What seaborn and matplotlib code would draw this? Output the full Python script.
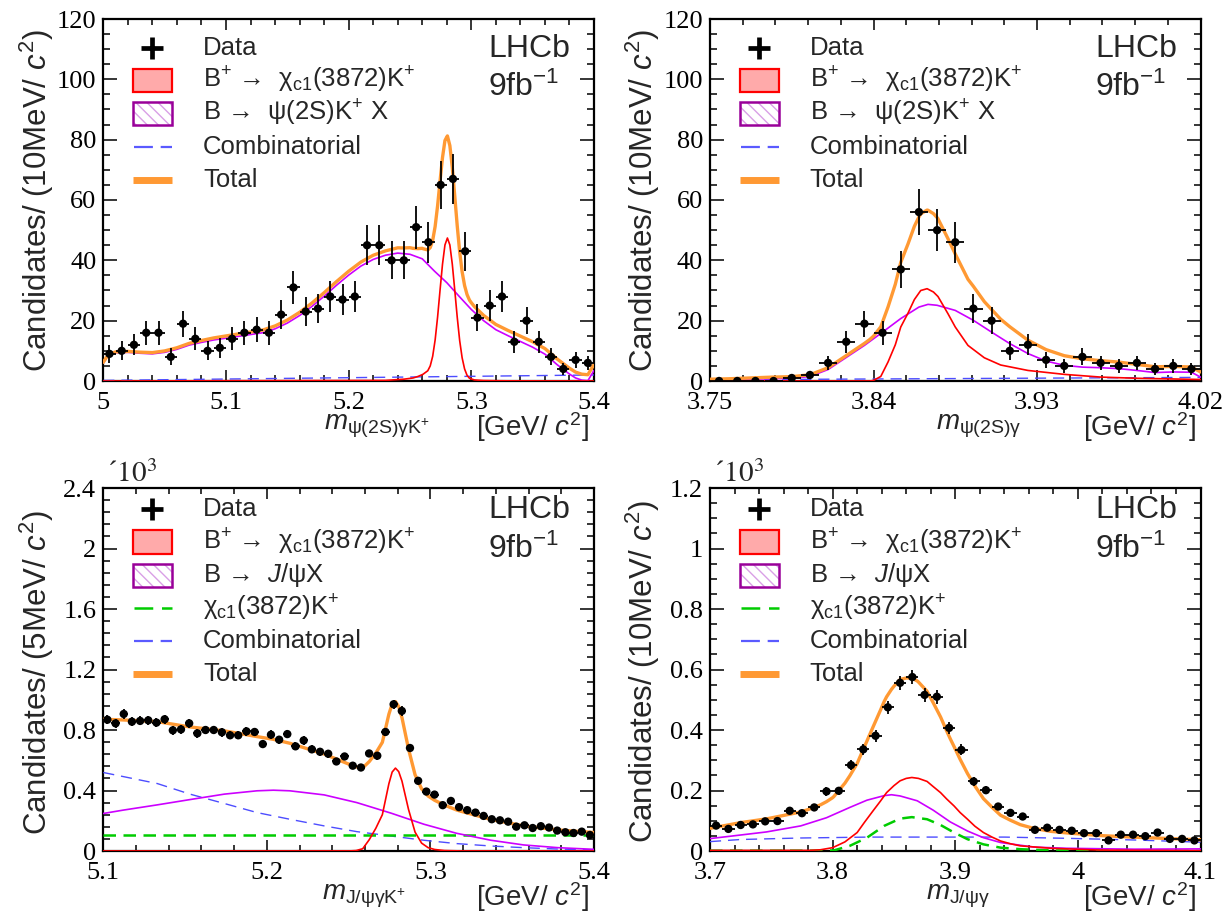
import numpy as np
import pandas as pd
import matplotlib
matplotlib.use("Agg")
import matplotlib.pyplot as plt
import seaborn as sns
from matplotlib.patches import Rectangle
from matplotlib.lines import Line2D
from matplotlib.ticker import MultipleLocator, FixedLocator, FuncFormatter

# ------------------------------------------------------------------ data
# (a) m(psi(2S) gamma K+), 10 MeV bins, 5.00 - 5.40 GeV
a_edges = (5.00, 5.40, 0.010)
a_counts = [9, 10, 12, 16, 16, 8, 19, 14, 10, 11,
            14, 16, 17, 16, 22, 31, 23, 24, 28, 27,
            28, 45, 45, 40, 40, 51, 46, 65, 67, 43,
            21, 25, 28, 13, 20, 13, 8, 4, 7, 6]
a_sig_x = [5.000, 5.230, 5.245, 5.2525, 5.2565, 5.2605, 5.2645, 5.2665, 5.2685, 5.2705,
           5.2725, 5.2745, 5.2765, 5.2785, 5.2805, 5.2825, 5.2845, 5.2865, 5.2885, 5.2905,
           5.2925, 5.2945, 5.2965, 5.2985, 5.3025, 5.310, 5.330, 5.400]
a_sig_y = [0, 0.2, 0.6, 1.0, 1.5, 2.2, 3.4, 5.0, 8.2, 13.6,
           21.2, 30.1, 38.7, 45.1, 47.4, 45.1, 38.7, 30.1, 21.2, 13.4,
           7.7, 4.0, 1.9, 0.9, 0.35, 0.15, 0.05, 0]
a_bkg_x = [5.000, 5.004, 5.010, 5.020, 5.030, 5.040, 5.050, 5.060, 5.070, 5.080,
           5.090, 5.100, 5.110, 5.120, 5.130, 5.140, 5.150, 5.160, 5.170, 5.180,
           5.190, 5.200, 5.210, 5.220, 5.230, 5.240, 5.250, 5.260, 5.270, 5.280,
           5.290, 5.300, 5.310, 5.320, 5.330, 5.340, 5.350, 5.360, 5.370, 5.380,
           5.385, 5.390, 5.395, 5.400]
a_bkg_y = [6.0, 8.5, 9.4, 9.5, 9.2, 9.0, 9.5, 10.5, 11.9, 12.8,
           13.6, 14.2, 14.8, 15.4, 16.0, 17.3, 19.2, 21.7, 24.7, 28.1,
           31.7, 35.1, 38.1, 40.3, 41.7, 42.4, 42.0, 40.5, 36.4, 32.6,
           28.1, 23.7, 20.0, 17.0, 15.0, 13.1, 11.2, 8.9, 5.4, 2.3,
           1.0, 0.3, 0.1, 3.5]
a_comb_x = [5.0, 5.1, 5.2, 5.3, 5.4]
a_comb_y = [0.2, 0.65, 1.1, 1.55, 2.0]

# (b) m(psi(2S) gamma), 10 MeV bins, 3.75 - 4.02 GeV
b_edges = (3.75, 4.02, 0.010)
b_counts = [0, 0, 0, 0, 1, 2, 6, 13, 19, 16, 37, 56, 50, 46,
            24, 20, 10, 12, 7, 5, 8, 6, 5, 6, 4, 5, 4]
b_sig_x = [3.750, 3.838, 3.840, 3.844, 3.848, 3.852, 3.855, 3.859, 3.8625, 3.866,
           3.8695, 3.873, 3.8755, 3.881, 3.885, 3.892, 3.901, 3.910, 3.925, 3.945,
           3.965, 3.985, 4.020]
b_sig_y = [0, 0, 0.2, 1.5, 6.3, 12.0, 17.9, 22.5, 27.0, 30.0,
           30.6, 29.5, 28.0, 22.3, 17.9, 11.8, 7.7, 5.3, 3.5, 2.2,
           1.3, 0.9, 0.5]
b_bkg_x = [3.750, 3.760, 3.785, 3.795, 3.805, 3.815, 3.825, 3.835, 3.845, 3.855,
           3.865, 3.870, 3.875, 3.885, 3.895, 3.905, 3.915, 3.925, 3.935, 3.945,
           3.955, 3.965, 3.975, 3.985, 3.995, 4.005, 4.015, 4.020]
b_bkg_y = [0.2, 0.3, 0.8, 0.9, 1.5, 3.8, 7.8, 11.8, 16.2, 20.7,
           24.5, 25.4, 25.1, 23.4, 20.1, 16.2, 12.4, 9.1, 6.6, 5.2,
           4.6, 4.4, 4.1, 3.5, 2.8, 3.0, 2.9, 1.3]
b_comb_x = [3.75, 3.85, 3.95, 4.02]
b_comb_y = [0.4, 0.7, 1.0, 1.2]

# (c) m(J/psi gamma K+), 5 MeV bins, 5.10 - 5.40 GeV
c_edges = (5.10, 5.40, 0.005)
c_counts = [868, 844, 906, 855, 860, 864, 849, 871, 798, 804,
            844, 778, 800, 800, 785, 765, 765, 791, 787, 707,
            769, 736, 773, 692, 731, 672, 656, 643, 592, 625,
            564, 552, 645, 630, 787, 970, 926, 681, 464, 393,
            373, 303, 331, 290, 270, 254, 232, 210, 203, 194,
            161, 170, 152, 164, 155, 135, 124, 119, 128, 106]
c_sig_x = [5.100, 5.2506, 5.2546, 5.2586, 5.2626, 5.2666, 5.2706, 5.2746, 5.2766, 5.2786,
           5.2806, 5.2826, 5.2866, 5.2906, 5.2946, 5.2986, 5.3026, 5.3086, 5.3186, 5.400]
c_sig_y = [0, 0.5, 3, 15, 75, 150, 240, 445, 522, 548,
           525, 462, 275, 125, 52, 22, 10, 3, 0.5, 0]
c_bkg_x = [5.100, 5.112, 5.133, 5.153, 5.174, 5.194, 5.204, 5.214, 5.235, 5.255,
           5.276, 5.296, 5.316, 5.337, 5.357, 5.378, 5.400]
c_bkg_y = [248, 270, 305, 340, 376, 398, 402, 398, 371, 320,
           250, 177, 117, 71, 40, 22, 11]
c_comb_x = [5.100, 5.133, 5.153, 5.174, 5.194, 5.214, 5.235, 5.255, 5.276, 5.296,
            5.316, 5.337, 5.357, 5.378, 5.400]
c_comb_y = [519, 446, 376, 314, 254, 210, 166, 128, 99, 71,
            49, 33, 22, 13, 7]
c_xk_x = [5.10, 5.40]
c_xk_y = [104, 104]

# (d) m(J/psi gamma), 10 MeV bins, 3.70 - 4.10 GeV
d_edges = (3.70, 4.10, 0.010)
d_counts = [84, 73, 86, 88, 98, 99, 133, 125, 144, 197,
            199, 284, 336, 381, 475, 556, 575, 516, 510, 407,
            334, 230, 201, 147, 126, 114, 70, 77, 70, 67,
            59, 59, 35, 54, 54, 49, 61, 40, 40, 35]
d_sig_x = [3.700, 3.780, 3.790, 3.800, 3.810, 3.820, 3.826, 3.833, 3.839, 3.844,
           3.850, 3.855, 3.860, 3.8646, 3.870, 3.877, 3.882, 3.888, 3.893, 3.899,
           3.904, 3.910, 3.916, 3.923, 3.930, 3.937, 3.945, 3.953, 3.978, 4.018, 4.100]
d_sig_y = [2, 2, 4, 11, 30, 61, 95, 133, 165, 193,
           216, 232, 240, 243, 240, 230, 213, 193, 172, 149,
           127, 105, 82, 61, 46, 33, 24, 17, 9, 3, 1]
d_bkg_x = [3.700, 3.719, 3.746, 3.774, 3.795, 3.814, 3.828, 3.842, 3.848, 3.855,
           3.869, 3.882, 3.896, 3.910, 3.923, 3.937, 3.964, 3.991, 4.046, 4.100]
d_bkg_y = [41, 50, 63, 83, 110, 144, 168, 183, 186, 182,
           166, 135, 96, 66, 44, 28, 13, 9, 6, 7]
d_xk_x = [3.700, 3.790, 3.801, 3.814, 3.828, 3.842, 3.855, 3.8646, 3.877, 3.888,
          3.899, 3.910, 3.923, 3.937, 3.953, 3.978, 4.100]
d_xk_y = [1, 1, 2, 17, 44, 83, 107, 112, 105, 86,
          61, 39, 22, 11, 6, 2, 0]
d_comb_x = [3.700, 3.725, 3.774, 3.830, 3.940, 3.990, 4.050, 4.100]
d_comb_y = [31, 38, 43, 46, 46, 42, 36, 29]

# labels
ylab_a = "Candidates/ (10MeV/ $c^{2}$)"
ylab_c = "Candidates/ (5MeV/ $c^{2}$)"
xlab_a = r"$m_{\mathrm{\psi(2S)\gamma K^{+}}}$"
xlab_b = r"$m_{\mathrm{\psi(2S)\gamma}}$"
xlab_c = r"$m_{\mathrm{J/\psi\gamma K^{+}}}$"
xlab_d = r"$m_{\mathrm{J/\psi\gamma}}$"
unit_lab = "[GeV/ $c^{2}$]"
leg_sig = "B$^{+}$ \u2192  \u03c7$_{\\mathrm{c1}}$(3872)K$^{+}$"
leg_bkg_psi = "B \u2192  \u03c8(2S)K$^{+}$ X"
leg_bkg_jpsi = "B \u2192  $\\mathit{J}$/\u03c8X"
leg_xk = "\u03c7$_{\\mathrm{c1}}$(3872)K$^{+}$"
mult_lab = "\u00b4" + r"$\mathrm{10^{3}}$"

# ------------------------------------------------------------------ style
sns.set_theme(style="ticks")
plt.rcParams["font.family"] = ["Liberation Sans", "DejaVu Sans"]
plt.rcParams["mathtext.fontset"] = "custom"
plt.rcParams["mathtext.rm"] = "Liberation Sans"
plt.rcParams["mathtext.it"] = "Liberation Sans:italic"
plt.rcParams["mathtext.bf"] = "Liberation Sans:bold"
plt.rcParams["mathtext.sf"] = "Liberation Sans"
plt.rcParams["hatch.linewidth"] = 1.0

C_TOT = "#ff9933"
C_SIG = "#ff0000"
C_BKG = "#cc00ff"
C_COMB = "#4d4dff"
C_XK = "#00cc00"

fig = plt.figure(figsize=(12.28, 9.13), dpi=100)
W, H = 1228.0, 913.0
ax_a = fig.add_axes([103.3 / W, (H - 381) / H, 490.7 / W, 362 / H])
ax_b = fig.add_axes([710.0 / W, (H - 381) / H, 490.5 / W, 362 / H])
ax_c = fig.add_axes([103.3 / W, (H - 851) / H, 490.7 / W, 363 / H])
ax_d = fig.add_axes([710.0 / W, (H - 851) / H, 490.5 / W, 363 / H])


def centers(edges):
    lo, hi, w = edges
    n = int(round((hi - lo) / w))
    return lo + w * (np.arange(n) + 0.5), w


def curve(ax, x, y, color, lw, ls="-", z=3):
    sns.lineplot(x=np.asarray(x, float), y=np.asarray(y, float), ax=ax, color=color,
                 lw=lw, linestyle=ls, estimator=None, sort=False, legend=False, zorder=z)


def total(components):
    grid = np.unique(np.concatenate([np.asarray(cx, float) for cx, _ in components]))
    tot = np.zeros_like(grid)
    for cx, cy in components:
        tot += np.interp(grid, cx, cy)
    return grid, tot


def data(ax, edges, counts):
    xc, w = centers(edges)
    n = np.asarray(counts, float)
    err = np.sqrt(n)
    df = pd.DataFrame({"x": xc, "n": n})
    ax.errorbar(xc, n, yerr=err, xerr=w / 2, fmt="none", ecolor="black",
                elinewidth=1.3, capsize=0, zorder=5)
    sns.scatterplot(data=df, x="x", y="n", ax=ax, color="black", s=36,
                    edgecolor="none", zorder=6, legend=False)


def leg(ax, entries, ys, fs=18.5):
    bx0, bw = 0.061, 0.079
    for (kind, label), y in zip(entries, ys):
        bh = 0.064
        if kind == "data":
            ax.plot([0.100], [y], marker="+", ms=16, mew=3.4, color="black",
                    transform=ax.transAxes, clip_on=False, zorder=10)
        elif kind == "sig":
            ax.add_patch(Rectangle((bx0, y - bh / 2), bw, bh, transform=ax.transAxes,
                                   facecolor="#ffaaaa", edgecolor="red", lw=1.6, zorder=10))
        elif kind == "bkg":
            ax.add_patch(Rectangle((bx0, y - bh / 2), bw, bh, transform=ax.transAxes,
                                   facecolor="white", edgecolor="#d9a0e6", lw=0,
                                   hatch="\\\\\\", zorder=10))
            ax.add_patch(Rectangle((bx0, y - bh / 2), bw, bh, transform=ax.transAxes,
                                   facecolor="none", edgecolor="#990099", lw=1.8, zorder=11))
        elif kind == "comb":
            ax.add_line(Line2D([0.063, 0.140], [y, y], transform=ax.transAxes, color="#5a5aff",
                               lw=1.6, linestyle=(0, (8.5, 3.5)), zorder=10))
        elif kind == "xk":
            ax.add_line(Line2D([0.063, 0.140], [y, y], transform=ax.transAxes, color=C_XK,
                               lw=1.8, linestyle=(0, (7.5, 3.5)), zorder=10))
        elif kind == "tot":
            ax.add_line(Line2D([0.061, 0.140], [y, y], transform=ax.transAxes, color=C_TOT,
                               lw=5.0, solid_capstyle="butt", zorder=10))
        ax.text(0.2035, y, label, transform=ax.transAxes, fontsize=fs, va="center",
                ha="left", zorder=10)


def frame(ax, xlim, ylim, xmaj, xmin, ymaj, ymin, yfmt):
    ax.set_xlim(*xlim)
    ax.set_ylim(*ylim)
    ax.xaxis.set_major_locator(xmaj)
    ax.xaxis.set_minor_locator(xmin)
    ax.yaxis.set_major_locator(ymaj)
    ax.yaxis.set_minor_locator(ymin)
    ax.xaxis.set_major_formatter(FuncFormatter(lambda v, p: f"{v:g}"))
    ax.yaxis.set_major_formatter(yfmt)
    ax.tick_params(which="both", direction="in", top=True, right=True,
                   width=1.1, color="black", labelfontfamily="Liberation Serif",
                   labelsize=19, labelcolor="black")
    ax.tick_params(axis="x", which="major", length=8, pad=8)
    ax.tick_params(axis="x", which="minor", length=4.5)
    ax.tick_params(axis="y", which="major", length=10, pad=5)
    ax.tick_params(axis="y", which="minor", length=5)
    for s in ax.spines.values():
        s.set_linewidth(1.6)
        s.set_color("black")
    ax.set_xlabel("")
    ax.set_ylabel("")
    ax.grid(False)


def lhcb(ax, y1, y2):
    ax.text(0.785, y1, "LHCb", transform=ax.transAxes, fontsize=23, va="center", ha="left")
    ax.text(0.785, y2, "9fb$^{-1}$", transform=ax.transAxes, fontsize=23, va="center", ha="left")


def xtitle(ax, xm, label):
    ax.annotate(label, xy=(xm, 0), xycoords="axes fraction", xytext=(0, -33),
                textcoords="offset points", fontsize=20, ha="left", va="center")
    ax.annotate(unit_lab, xy=(0.99, 0), xycoords="axes fraction", xytext=(0, -33),
                textcoords="offset points", fontsize=20, ha="right", va="center")


def multiplier(ax):
    ax.text(0.008, 1.0, mult_lab, transform=ax.transAxes, fontsize=21,
            family="Liberation Serif", math_fontfamily="stix", ha="left", va="bottom")


plain = FuncFormatter(lambda v, p: f"{v:g}")
kilo = FuncFormatter(lambda v, p: f"{v / 1000:g}")

# ---------------- panel a
ax = ax_a
g, t = total([(a_sig_x, a_sig_y), (a_bkg_x, a_bkg_y), (a_comb_x, a_comb_y)])
curve(ax, a_comb_x, a_comb_y, C_COMB, 1.0, (0, (8, 5)))
curve(ax, a_bkg_x, a_bkg_y, C_BKG, 1.2)
curve(ax, a_sig_x, a_sig_y, C_SIG, 1.2)
curve(ax, g, t, C_TOT, 2.4, z=4)
data(ax, a_edges, a_counts)
frame(ax, (5.0, 5.4), (0, 120), MultipleLocator(0.1), MultipleLocator(0.02),
      MultipleLocator(20), MultipleLocator(5), plain)
leg(ax, [("data", "Data"), ("sig", leg_sig), ("bkg", leg_bkg_psi),
         ("comb", "Combinatorial"), ("tot", "Total")],
    [0.920, 0.831, 0.740, 0.646, 0.555])
lhcb(ax, 0.917, 0.812)
xtitle(ax, 0.45, xlab_a)

# ---------------- panel b
ax = ax_b
g, t = total([(b_sig_x, b_sig_y), (b_bkg_x, b_bkg_y), (b_comb_x, b_comb_y)])
curve(ax, b_comb_x, b_comb_y, C_COMB, 1.0, (0, (8, 5)))
curve(ax, b_bkg_x, b_bkg_y, C_BKG, 1.2)
curve(ax, b_sig_x, b_sig_y, C_SIG, 1.2)
curve(ax, g, t, C_TOT, 2.4, z=4)
data(ax, b_edges, b_counts)
frame(ax, (3.75, 4.02), (0, 120), FixedLocator([3.75, 3.84, 3.93, 4.02]),
      FixedLocator(3.75 + 0.018 * np.arange(16)),
      MultipleLocator(20), MultipleLocator(5), plain)
leg(ax, [("data", "Data"), ("sig", leg_sig), ("bkg", leg_bkg_psi),
         ("comb", "Combinatorial"), ("tot", "Total")],
    [0.920, 0.831, 0.740, 0.646, 0.555])
lhcb(ax, 0.917, 0.812)
xtitle(ax, 0.46, xlab_b)

# ---------------- panel c
ax = ax_c
g, t = total([(c_sig_x, c_sig_y), (c_bkg_x, c_bkg_y), (c_comb_x, c_comb_y), (c_xk_x, c_xk_y)])
curve(ax, c_comb_x, c_comb_y, C_COMB, 1.0, (0, (8, 5)))
curve(ax, c_xk_x, c_xk_y, C_XK, 1.8, (0, (5, 3)))
curve(ax, c_bkg_x, c_bkg_y, C_BKG, 1.2)
curve(ax, c_sig_x, c_sig_y, C_SIG, 1.2)
curve(ax, g, t, C_TOT, 2.4, z=4)
data(ax, c_edges, c_counts)
frame(ax, (5.1, 5.4), (0, 2400), MultipleLocator(0.1), MultipleLocator(0.02),
      MultipleLocator(400), MultipleLocator(80), kilo)
leg(ax, [("data", "Data"), ("sig", leg_sig), ("bkg", leg_bkg_jpsi), ("xk", leg_xk),
         ("comb", "Combinatorial"), ("tot", "Total")],
    [0.942, 0.851, 0.760, 0.669, 0.579, 0.488])
lhcb(ax, 0.939, 0.832)
xtitle(ax, 0.445, xlab_c)
multiplier(ax)

# ---------------- panel d
ax = ax_d
g, t = total([(d_sig_x, d_sig_y), (d_bkg_x, d_bkg_y), (d_comb_x, d_comb_y), (d_xk_x, d_xk_y)])
curve(ax, d_comb_x, d_comb_y, C_COMB, 1.0, (0, (8, 5)))
curve(ax, d_xk_x, d_xk_y, C_XK, 1.8, (0, (5, 3)))
curve(ax, d_bkg_x, d_bkg_y, C_BKG, 1.2)
curve(ax, d_sig_x, d_sig_y, C_SIG, 1.2)
curve(ax, g, t, C_TOT, 2.4, z=4)
data(ax, d_edges, d_counts)
frame(ax, (3.7, 4.1), (0, 1200), MultipleLocator(0.1), MultipleLocator(0.02),
      MultipleLocator(200), MultipleLocator(50), kilo)
leg(ax, [("data", "Data"), ("sig", leg_sig), ("bkg", leg_bkg_jpsi), ("xk", leg_xk),
         ("comb", "Combinatorial"), ("tot", "Total")],
    [0.942, 0.851, 0.760, 0.669, 0.579, 0.488])
lhcb(ax, 0.939, 0.832)
xtitle(ax, 0.44, xlab_d)
multiplier(ax)

# y titles
fig.text(37 / W, 1 - 201 / H, ylab_a, rotation=90, fontsize=22.5, ha="center", va="center")
fig.text(37 / W, 1 - 672 / H, ylab_c, rotation=90, fontsize=22.5, ha="center", va="center")
fig.text(643 / W, 1 - 201 / H, ylab_a, rotation=90, fontsize=22.5, ha="center", va="center")
fig.text(643 / W, 1 - 672 / H, ylab_a, rotation=90, fontsize=22.5, ha="center", va="center")

fig.savefig("out.png", dpi=100)
